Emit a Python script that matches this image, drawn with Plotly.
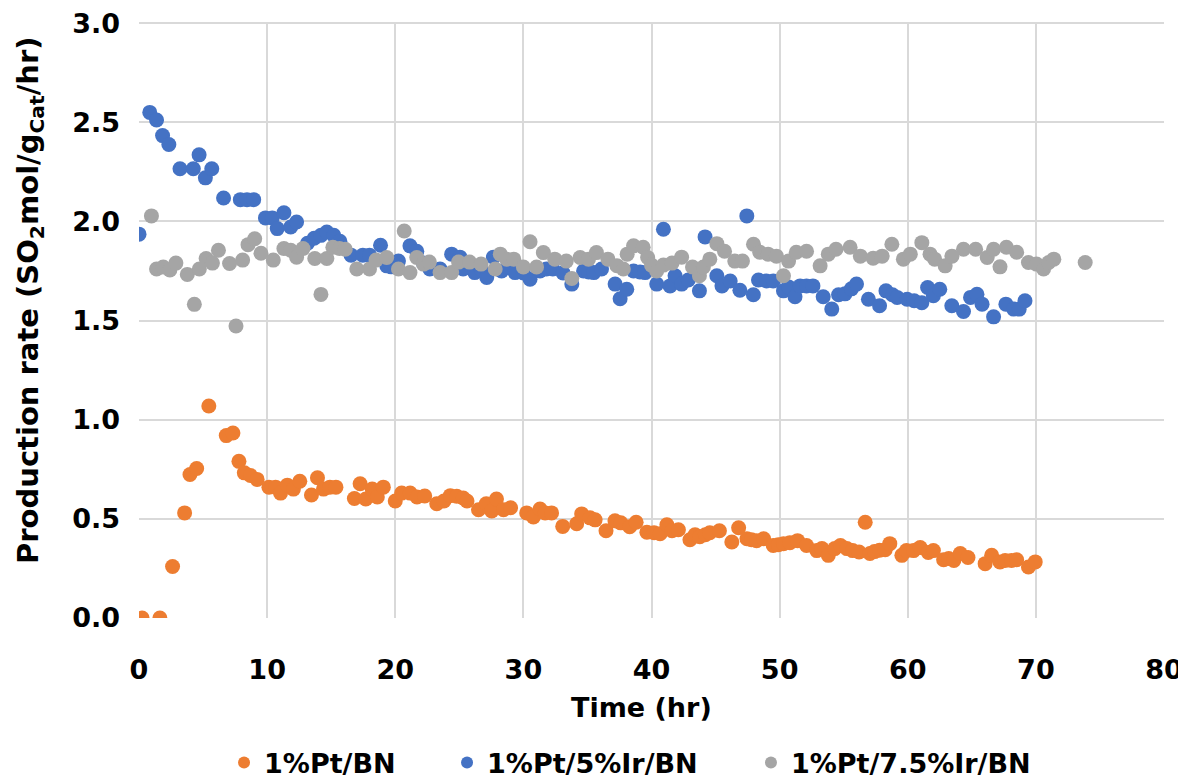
import plotly.graph_objects as go

# 1%Pt/BN
pt_x = [0.24, 1.63, 2.62, 3.56, 3.98, 4.5, 5.45, 6.81, 7.33, 7.8, 8.22, 8.7, 9.22, 10.14, 10.66, 11.05, 11.58, 12.05, 12.55, 13.46, 13.93, 14.4, 14.9, 15.37, 16.81, 17.26, 17.7, 18.2, 18.6, 19.07, 20.0, 20.5, 21.16, 21.7, 22.3, 23.24, 23.8, 24.3, 24.8, 25.3, 25.6, 26.5, 27.1, 27.53, 27.9, 28.45, 29.0, 30.26, 30.78, 31.3, 31.7, 32.2, 33.07, 34.16, 34.55, 35.2, 35.6, 36.45, 37.15, 37.6, 38.3, 38.8, 39.64, 40.2, 40.67, 41.2, 41.6, 42.1, 43.0, 43.4, 43.77, 44.2, 44.55, 45.3, 46.27, 46.8, 47.45, 47.8, 48.2, 48.75, 49.5, 49.9, 50.3, 50.8, 51.4, 52.1, 52.9, 53.3, 53.8, 54.3, 54.75, 55.25, 55.7, 56.2, 56.68, 57.05, 57.4, 57.8, 58.24, 58.6, 59.54, 59.9, 60.45, 60.97, 61.6, 62.0, 62.8, 63.2, 63.6, 64.1, 64.7, 66.04, 66.55, 67.2, 67.6, 68.1, 68.5, 69.42, 69.95]
pt_y = [0.0, 0.0, 0.26, 0.53, 0.724, 0.754, 1.069, 0.92, 0.933, 0.79, 0.732, 0.719, 0.699, 0.66, 0.66, 0.63, 0.67, 0.65, 0.69, 0.62, 0.707, 0.65, 0.66, 0.66, 0.603, 0.677, 0.6, 0.65, 0.61, 0.66, 0.59, 0.63, 0.63, 0.61, 0.615, 0.576, 0.59, 0.617, 0.614, 0.605, 0.59, 0.546, 0.576, 0.54, 0.6, 0.546, 0.556, 0.53, 0.51, 0.55, 0.53, 0.53, 0.462, 0.475, 0.525, 0.505, 0.495, 0.44, 0.49, 0.48, 0.46, 0.483, 0.433, 0.43, 0.425, 0.47, 0.44, 0.445, 0.395, 0.42, 0.41, 0.42, 0.43, 0.44, 0.383, 0.455, 0.4, 0.395, 0.39, 0.4, 0.366, 0.37, 0.375, 0.38, 0.39, 0.366, 0.34, 0.35, 0.316, 0.35, 0.366, 0.35, 0.34, 0.333, 0.483, 0.325, 0.335, 0.342, 0.344, 0.375, 0.316, 0.34, 0.34, 0.355, 0.33, 0.34, 0.294, 0.3, 0.29, 0.325, 0.305, 0.274, 0.316, 0.283, 0.29, 0.29, 0.294, 0.257, 0.283]

# 1%Pt/5%Ir/BN
ir5_x = [0.0, 0.84, 1.37, 1.84, 2.33, 3.2, 4.24, 4.69, 5.18, 5.68, 6.6, 7.91, 8.43, 8.95, 9.87, 10.4, 10.79, 11.31, 11.84, 12.3, 13.15, 13.67, 14.2, 14.66, 15.2, 15.68, 16.55, 17.47, 17.99, 18.85, 19.34, 19.69, 20.25, 21.15, 21.68, 22.2, 22.7, 23.5, 24.4, 25.05, 25.3, 26.2, 26.7, 27.14, 27.66, 28.3, 28.8, 29.35, 30.0, 30.52, 31.3, 31.8, 32.3, 33.1, 33.78, 34.7, 35.1, 35.5, 36.1, 37.16, 37.55, 38.07, 38.6, 39.1, 39.5, 40.41, 40.93, 41.45, 41.84, 42.35, 42.87, 43.74, 44.18, 45.1, 45.5, 46.14, 46.9, 47.44, 47.95, 48.35, 48.97, 49.5, 50.3, 50.7, 51.2, 51.6, 52.1, 52.6, 53.4, 54.07, 54.6, 55.1, 55.6, 56.0, 56.93, 57.8, 58.3, 58.8, 59.17, 59.95, 60.5, 61.1, 61.55, 62.0, 62.5, 63.44, 64.35, 64.9, 65.4, 65.8, 66.7, 67.66, 68.27, 68.7, 69.15]
ir5_y = [1.936, 2.55, 2.512, 2.433, 2.388, 2.266, 2.266, 2.336, 2.22, 2.266, 2.118, 2.11, 2.11, 2.11, 2.018, 2.018, 1.964, 2.044, 1.972, 1.997, 1.89, 1.915, 1.93, 1.947, 1.93, 1.9, 1.83, 1.83, 1.83, 1.88, 1.776, 1.771, 1.8, 1.877, 1.85, 1.79, 1.76, 1.76, 1.835, 1.82, 1.76, 1.742, 1.76, 1.717, 1.82, 1.75, 1.77, 1.742, 1.74, 1.709, 1.75, 1.76, 1.76, 1.74, 1.684, 1.75, 1.745, 1.742, 1.76, 1.684, 1.61, 1.658, 1.75, 1.745, 1.742, 1.684, 1.961, 1.675, 1.726, 1.684, 1.705, 1.65, 1.922, 1.726, 1.675, 1.7, 1.653, 2.028, 1.63, 1.705, 1.7, 1.7, 1.65, 1.67, 1.62, 1.675, 1.675, 1.675, 1.62, 1.558, 1.63, 1.635, 1.66, 1.684, 1.608, 1.575, 1.65, 1.63, 1.617, 1.608, 1.6, 1.59, 1.667, 1.625, 1.658, 1.575, 1.546, 1.617, 1.633, 1.583, 1.519, 1.583, 1.558, 1.558, 1.6]

# 1%Pt/7.5%Ir/BN
ir75_x = [0.97, 1.37, 1.89, 2.41, 2.88, 3.77, 4.32, 4.71, 5.24, 5.73, 6.2, 7.07, 7.57, 8.09, 8.51, 9.03, 9.52, 10.48, 11.31, 11.84, 12.3, 12.8, 13.72, 14.2, 14.66, 15.13, 15.65, 16.1, 17.0, 17.99, 18.5, 19.33, 20.25, 20.7, 21.15, 21.68, 22.2, 22.66, 23.5, 24.4, 24.94, 25.8, 26.7, 27.8, 28.2, 28.7, 29.25, 30.0, 30.52, 31.03, 31.56, 32.45, 33.35, 33.78, 34.43, 35.08, 35.7, 36.6, 37.3, 37.8, 38.1, 38.6, 39.35, 39.7, 40.0, 40.4, 40.93, 41.6, 42.35, 43.2, 43.74, 44.05, 44.55, 45.1, 45.7, 46.5, 47.1, 47.96, 48.45, 49.1, 49.75, 50.3, 50.7, 51.3, 52.1, 53.16, 53.8, 54.4, 55.5, 56.3, 57.3, 58.0, 58.76, 59.66, 60.2, 61.1, 61.74, 62.1, 62.92, 63.45, 64.35, 65.3, 66.2, 66.7, 67.2, 67.7, 68.5, 69.42, 70.05, 70.6, 71.0, 71.4, 73.85]
ir75_y = [2.028, 1.76, 1.77, 1.755, 1.79, 1.733, 1.582, 1.76, 1.813, 1.79, 1.855, 1.788, 1.473, 1.805, 1.883, 1.913, 1.84, 1.805, 1.863, 1.855, 1.82, 1.863, 1.813, 1.632, 1.813, 1.87, 1.863, 1.86, 1.76, 1.76, 1.805, 1.818, 1.76, 1.952, 1.742, 1.818, 1.785, 1.795, 1.742, 1.742, 1.795, 1.795, 1.785, 1.76, 1.835, 1.81, 1.81, 1.77, 1.898, 1.77, 1.843, 1.81, 1.8, 1.712, 1.818, 1.81, 1.843, 1.81, 1.777, 1.76, 1.835, 1.877, 1.87, 1.818, 1.78, 1.75, 1.78, 1.79, 1.82, 1.77, 1.726, 1.77, 1.81, 1.888, 1.85, 1.8, 1.8, 1.885, 1.845, 1.835, 1.825, 1.726, 1.8, 1.845, 1.85, 1.776, 1.835, 1.86, 1.87, 1.825, 1.815, 1.825, 1.885, 1.81, 1.835, 1.893, 1.835, 1.81, 1.776, 1.825, 1.86, 1.86, 1.818, 1.86, 1.771, 1.87, 1.845, 1.793, 1.785, 1.76, 1.793, 1.81, 1.793]

x_ticks = [0, 10, 20, 30, 40, 50, 60, 70, 80]
y_ticks = [0.0, 0.5, 1.0, 1.5, 2.0, 2.5, 3.0]
y_tick_labels = ["0.0", "0.5", "1.0", "1.5", "2.0", "2.5", "3.0"]

FONT = "DejaVu Sans"
TF = dict(family=FONT, size=27, color="black", weight="bold")
LF = dict(family=FONT, size=27, color="black", weight="bold")

# page body adds an 8px margin, so the figure is sized to fill the rest of the window
W, H = 1178, 773

series = [
    ("1%Pt/BN", pt_x, pt_y, "#ED7D31", "legend", 0.1834),
    ("1%Pt/5%Ir/BN", ir5_x, ir5_y, "#4472C4", "legend2", 0.3727),
    ("1%Pt/7.5%Ir/BN", ir75_x, ir75_y, "#A5A5A5", "legend3", 0.6307),
]

fig = go.Figure()
legends = {}
for name, xs, ys, col, lg, lx in series:
    fig.add_trace(go.Scatter(
        x=xs, y=ys, mode="markers", name=name, legend=lg, showlegend=True,
        marker=dict(size=15, color=col, line=dict(width=0)),
    ))
    legends[lg] = dict(
        orientation="h", xref="container", yref="container",
        x=lx, xanchor="left", y=0.0235, yanchor="middle",
        font=LF, itemsizing="constant", bgcolor="rgba(0,0,0,0)", borderwidth=0,
    )

fig.update_layout(
    width=W, height=H,
    showlegend=True,
    margin=dict(l=131, r=22, t=14, b=163, autoexpand=False),
    paper_bgcolor="white", plot_bgcolor="white",
    font=TF,
    xaxis=dict(
        range=[0, 80], tickvals=x_ticks, showgrid=True, gridcolor="#D9D9D9", gridwidth=1.5,
        zeroline=False, showline=False, ticks="", automargin=False,
        tickfont=TF, ticklabelstandoff=33, ticklabeloverflow="allow",
    ),
    yaxis=dict(
        range=[0, 3.006], tickvals=y_ticks, ticktext=y_tick_labels, showgrid=True,
        gridcolor="#D9D9D9", gridwidth=1.5, zeroline=False, showline=False, ticks="",
        automargin=False, tickfont=TF, ticklabelstandoff=18, ticklabeloverflow="allow",
    ),
    annotations=[
        dict(text="Time (hr)", xref="paper", yref="paper", x=0.49, y=-0.1496,
             xanchor="center", yanchor="middle", showarrow=False, font=TF),
        dict(text="Production rate (SO<sub>2</sub>mol/g<sub>Cat</sub>/hr)", xref="paper", yref="paper",
             x=-0.1063, y=0.532, xanchor="center", yanchor="middle", textangle=-90,
             showarrow=False, font=dict(family=FONT, size=29, color="black", weight="bold")),
    ],
    **legends,
)

fig.write_html("out.html")
